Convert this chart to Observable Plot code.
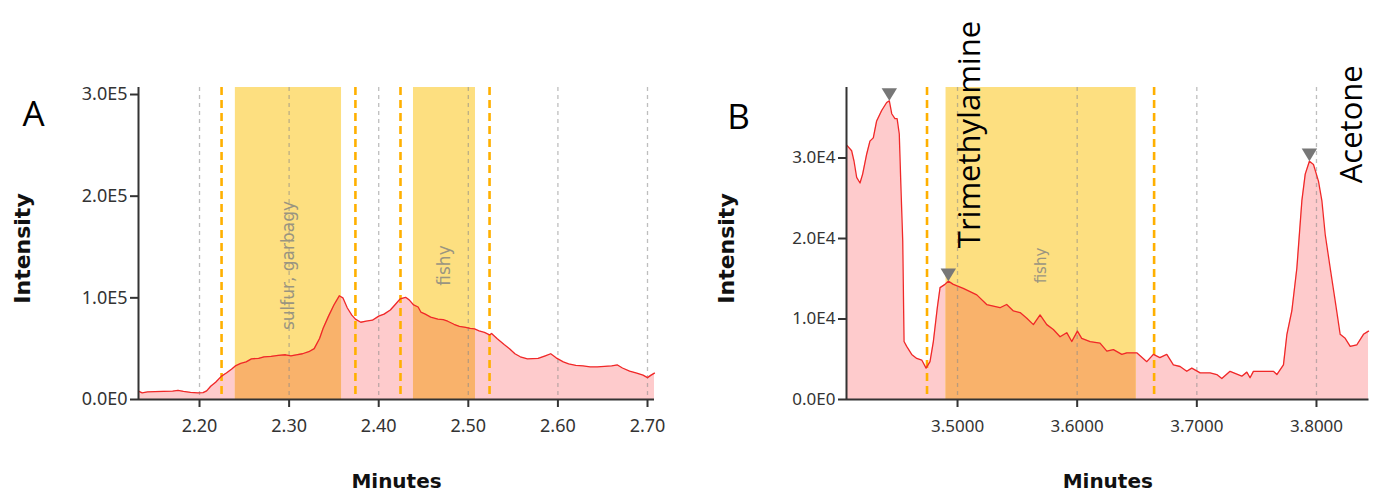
<!DOCTYPE html>
<html><head><meta charset="utf-8">
<script src="https://cdn.jsdelivr.net/npm/d3@7"></script>
<script src="https://cdn.jsdelivr.net/npm/@observablehq/plot@0.6"></script>
<style>
html,body{margin:0;padding:0;background:#fff;}
#wrap{position:relative;width:1376px;height:494px;overflow:hidden;background:#fff;}
#wrap svg{position:absolute;top:0;}
</style></head><body><div id="wrap"></div>
<script>
// ---------- Panel A data ----------
const minutesA = [2.1325,2.136,2.142,2.150,2.160,2.170,2.176,2.182,2.190,2.198,2.204,2.208,2.2125,2.218,2.2246,2.230,2.236,2.240,2.246,2.252,2.258,2.266,2.272,2.280,2.288,2.296,2.302,2.308,2.315,2.322,2.328,2.334,2.338,2.344,2.350,2.356,2.360,2.365,2.370,2.374,2.380,2.386,2.393,2.400,2.406,2.413,2.418,2.424,2.430,2.434,2.439,2.444,2.447,2.452,2.458,2.466,2.472,2.477,2.484,2.490,2.497,2.502,2.507,2.512,2.518,2.5237,2.526,2.532,2.540,2.546,2.552,2.558,2.566,2.578,2.586,2.592,2.598,2.606,2.612,2.620,2.628,2.636,2.644,2.652,2.660,2.6665,2.672,2.680,2.688,2.695,2.700,2.704,2.7078];
const intensityA = [8000,6500,7500,7800,8000,8200,9000,8000,7000,6500,6800,8500,13000,17000,23000,26000,30000,33000,35500,37000,40000,40500,42000,42500,43500,44000,43000,44000,45000,47000,50000,60000,70000,82000,93000,102000,100000,90000,83000,79000,76000,77000,78000,82000,84000,88000,93000,99000,100500,98000,93000,91000,86000,84000,81000,79000,78500,77000,74000,72000,71000,70000,69500,67500,66000,63500,65000,60000,54000,50000,45000,42000,40000,40500,43000,45000,41000,37000,35000,33500,33000,32000,32000,32500,33000,34000,31000,28000,26000,24000,21500,24000,26000];
const odorsA = ["sulfur, garbagy", "fishy"];
const bandStartA = [2.240, 2.4388];
const bandEndA = [2.3585, 2.508];
const cutsA = [2.2246, 2.374, 2.4243, 2.5237];
const xTicksA = [2.2, 2.3, 2.4, 2.5, 2.6, 2.7];
const yTicksA = [0, 1e5, 2e5, 3e5];

// ---------- Panel B data ----------
const minutesB = [3.4074,3.4115,3.4135,3.4157,3.4185,3.4207,3.4241,3.4268,3.4296,3.4324,3.4366,3.4408,3.4430,3.4450,3.4477,3.4495,3.4513,3.4528,3.4542,3.4553,3.4575,3.4617,3.4659,3.4701,3.4737,3.4770,3.4798,3.4831,3.4854,3.4895,3.4923,3.4965,3.5048,3.5161,3.5244,3.5355,3.5411,3.5467,3.5523,3.5579,3.5634,3.5690,3.5746,3.5801,3.5857,3.5913,3.5955,3.6002,3.6038,3.6108,3.6191,3.6248,3.6303,3.6373,3.6415,3.6498,3.6582,3.6637,3.6691,3.6749,3.6804,3.6860,3.6916,3.6958,3.7028,3.7111,3.7167,3.7209,3.7278,3.7376,3.7418,3.7445,3.7473,3.7557,3.7640,3.7669,3.7724,3.7753,3.7794,3.7836,3.7878,3.7906,3.7941,3.7975,3.8017,3.8045,3.8073,3.8115,3.8157,3.8198,3.8240,3.8282,3.8338,3.8393,3.8435];
const intensityB = [31600,30900,29600,27600,26900,28000,30500,32100,32500,34600,35900,36900,37100,35500,34900,34900,33000,25900,19700,7200,6600,5600,5100,4900,3900,4700,7200,11400,13900,14300,14700,14300,13800,13000,11800,11400,11800,11000,10800,10100,9300,10500,9300,8700,7800,8300,7200,8500,7600,7200,7000,6000,6200,5600,5800,5800,4700,5600,5200,5600,4300,4100,3500,3900,3300,3300,3100,2600,3500,2900,3400,2700,3500,3500,3500,3100,4300,8100,11000,16300,24700,28000,29600,29200,27100,24700,20500,16300,12200,8100,7600,6600,6800,8100,8500];
const odorsB = ["fishy"];
const bandStartB = [3.4904];
const bandEndB = [3.6493];
const cutsB = [3.4745, 3.6643];
const xTicksB = [3.5, 3.6, 3.7, 3.8];
const yTicksB = [0, 1e4, 2e4, 3e4];
const peakMinutesB = [3.4430, 3.4923, 3.7941];
const peakIntensityB = [37100, 14700, 29600];
const compoundNames = ["Trimethylamine", "Acetone"];
const compoundMinutes = [3.4923, 3.7941];
const compoundIntensity = [14700, 29600];

// ---------- helpers ----------
const zip = (ts, vs) => ts.map((t, i) => ({t, v: vs[i]}));
function interp(s, t) {
  for (let i = 1; i < s.length; i++) {
    if (s[i].t >= t) {
      const p = s[i - 1], q = s[i], f = (t - p.t) / (q.t - p.t);
      return {t, v: p.v + f * (q.v - p.v)};
    }
  }
  return s[s.length - 1];
}
function underBands(s, bands) {
  const out = [];
  bands.forEach((b, k) => {
    [interp(s, b.start), ...s.filter(d => d.t > b.start && d.t < b.end), interp(s, b.end)]
      .forEach(d => out.push({...d, band: k}));
  });
  return out;
}
const fmtE = v => d3.format(".1e")(v).replace("e+", "E").replace("e-", "E-");
const downTri = {
  draw(ctx, size) {
    const r = Math.sqrt(size / Math.PI);
    ctx.moveTo(-1.4 * r, -2.3 * r);
    ctx.lineTo(1.4 * r, -2.3 * r);
    ctx.lineTo(0, 0);
    ctx.closePath();
  }
};

const PINK = "#fecbcc", YELLOW = "#fddf80", ORANGE = "#f9b26b", RED = "#f02828", GOLD = "#ffb000";

function panel(cfg) {
  const series = zip(cfg.minutes, cfg.intensity);
  const bands = cfg.odors.map((o, i) => ({odor: o, start: cfg.bandStart[i], end: cfg.bandEnd[i]}));
  const fill = underBands(series, bands);
  const marks = [
    Plot.areaY(series, {x: "t", y: "v", fill: PINK}),
    Plot.rect(bands, {x1: "start", x2: "end", fill: YELLOW}),
    Plot.areaY(fill, {x: "t", y: "v", z: "band", fill: ORANGE}),
    Plot.gridX(cfg.xTicks, {stroke: "#888", strokeOpacity: 0.55, strokeDasharray: "4,4", strokeWidth: 1.3}),
    Plot.ruleX(cfg.cuts, {stroke: GOLD, strokeWidth: 2.6, strokeDasharray: "8,5"}),
    Plot.lineY(series, {x: "t", y: "v", stroke: RED, strokeWidth: 1.3}),
    Plot.text(bands, {x: d => (d.start + d.end) / 2, text: "odor", frameAnchor: "middle", rotate: -90, dy: 22,
      fill: "#9a9580", fontSize: cfg.bandFont, fontFamily: "DejaVu Sans", textAnchor: "middle", lineAnchor: "middle"}),
    Plot.axisX(cfg.xTicks, {tickSize: 8, tickPadding: 12, tickFormat: cfg.fmtX, strokeWidth: 2, label: null, fontSize: cfg.tickFont}),
    Plot.axisY(cfg.yTicks, {tickSize: 8, tickPadding: 3, tickFormat: fmtE, strokeWidth: 2, label: null, fontSize: cfg.tickFont}),
    Plot.ruleY([0], {stroke: "#333", strokeWidth: 2}),
    Plot.ruleX([cfg.xDomain[0]], {stroke: "#333", strokeWidth: 2}),
    Plot.text(["Minutes"], {frameAnchor: "bottom", dy: 82, fontWeight: "bold", fontSize: 20, fontFamily: "DejaVu Sans",
      fill: "#111", textAnchor: "middle", lineAnchor: "middle"}),
    Plot.text(["Intensity"], {frameAnchor: "left", dx: cfg.yLabelDx, dy: 5, rotate: -90, fontWeight: "bold", fontSize: 22,
      fontFamily: "DejaVu Sans", fill: "#111", textAnchor: "middle", lineAnchor: "middle"}),
    Plot.text([cfg.letter], {frameAnchor: "top-left", dx: cfg.letterDx, dy: cfg.letterDy, fontSize: 35,
      fontFamily: "Open Sans", fill: "#000", textAnchor: "middle", lineAnchor: "middle"})
  ];
  if (cfg.extra) marks.push(...cfg.extra);
  return Plot.plot({
    width: cfg.width, height: 494,
    marginLeft: cfg.marginLeft, marginRight: cfg.marginRight, marginTop: 87, marginBottom: 95,
    x: {domain: cfg.xDomain},
    y: {domain: cfg.yDomain},
    style: {fontFamily: "'Noto Sans', sans-serif", fontSize: cfg.tickFont + "px", color: "#333",
      background: "transparent", overflow: "visible"},
    marks
  });
}

const peaks = zip(peakMinutesB, peakIntensityB);
const compounds = compoundNames.map((n, i) => ({name: n, t: compoundMinutes[i], v: compoundIntensity[i]}));

const svgA = panel({
  minutes: minutesA, intensity: intensityA, odors: odorsA, bandStart: bandStartA, bandEnd: bandEndA,
  cuts: cutsA, xTicks: xTicksA, yTicks: yTicksA, fmtX: d3.format(".2f"),
  xDomain: [2.1319, 2.7078], yDomain: [0, 306900],
  width: 690, marginLeft: 138, marginRight: 36, tickFont: 18, bandFont: 17,
  yLabelDx: -116, letter: "A", letterDx: -105, letterDy: 27
});
const svgB = panel({
  minutes: minutesB, intensity: intensityB, odors: odorsB, bandStart: bandStartB, bandEnd: bandEndB,
  cuts: cutsB, xTicks: xTicksB, yTicks: yTicksB, fmtX: d3.format(".4f"),
  xDomain: [3.4072, 3.8439], yDomain: [0, 38760],
  width: 686, marginLeft: 156, marginRight: 7.5, tickFont: 17, bandFont: 15,
  yLabelDx: -120, letter: "B", letterDx: -108, letterDy: 30,
  extra: [
    Plot.dot(peaks, {x: "t", y: "v", symbol: downTri, r: 5.5, fill: "#777", stroke: null}),
    Plot.text(compounds.filter(d => d.name === "Trimethylamine"), {x: "t", y: "v", text: "name", rotate: -90,
      textAnchor: "start", lineAnchor: "middle", dx: 22, dy: -33, fontSize: 31, fontFamily: "Open Sans", fill: "#000"}),
    Plot.text(compounds.filter(d => d.name === "Acetone"), {x: "t", y: "v", text: "name", rotate: -90,
      textAnchor: "start", lineAnchor: "middle", dx: 43, dy: 22, fontSize: 31, fontFamily: "Open Sans", fill: "#000"})
  ]
});
svgA.style.left = "0px";
svgB.style.left = "690px";
const wrap = document.getElementById("wrap");
wrap.appendChild(svgA);
wrap.appendChild(svgB);
</script>
</body></html>
